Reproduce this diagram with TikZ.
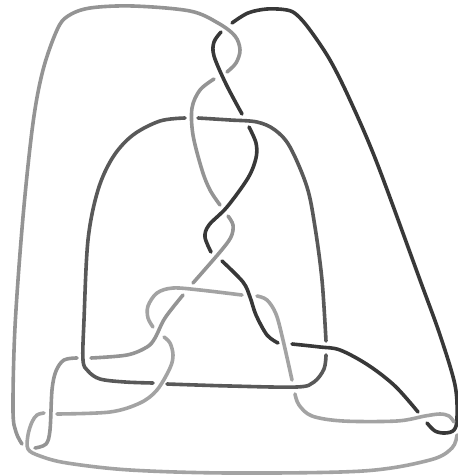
\documentclass[tikz,border=0pt]{standalone}
\begin{document}
\begin{tikzpicture}[x=1pt,y=-1pt,
  strand/.style={line width=3.6pt,line cap=round,line join=round,smooth,tension=0.55},
  dk/.style={strand,draw=black!78},
  md/.style={strand,draw=black!65},
  lg/.style={strand,draw=black!42},
  lh/.style={strand,draw=black!36}]
\useasboundingbox (0,0) rectangle (458,475);
% dark strand
\draw[dk] plot coordinates {(221,32) (214,42) (214,56) (226,84) (242,114)};
\draw[dk] plot coordinates {(249,127) (256,143) (256,158) (248,178) (227,207) (209,225) (205,237) (211,252)};
\draw[dk] plot coordinates {(222,261) (243,282) (250,297) (256,315) (267,335) (278,343)};
\draw[dk] plot coordinates {(292,344) (320,347) (340,350) (368,365) (395,386) (418,412)};
\draw[dk] plot coordinates {(427,423) (435,431) (445,433) (454,430) (457,418) (455,385) (440,335) (420,280) (377,163) (350,100) (330,60) (310,30) (297,15) (287,10) (267,9) (248,13) (232,23)};
% medium square strand
\draw[md] plot coordinates {(185,118) (160,121) (133,135) (113,157) (98,190) (88,240) (84,320) (83,360) (88,371) (100,379) (125,382) (153,383)};
\draw[md] plot coordinates {(167,384) (230,386) (297,387) (314,382) (324,369) (326,355)};
\draw[md] plot coordinates {(326,341) (322,280) (315,227) (307,187) (290,147) (275,130) (257,122) (230,120) (198,118)};
% light strands
\draw[lg] plot coordinates {(227,72) (236,63) (240,50) (235,36) (218,23) (190,11) (133,6) (90,8) (68,16) (57,30) (43,70) (33,123) (23,217) (15,327) (13,410) (16,432) (22,444)};
\draw[lg] plot coordinates {(214,79) (200,90) (192,108) (193,135) (202,170) (210,190) (220,205)};
\draw[lg] plot coordinates {(228,216) (233,225) (231,237) (220,252) (193,283)};
\draw[lg] plot coordinates {(183,295) (165,318) (155,338) (147,347) (127,355) (91,358)};
\draw[lh] plot coordinates {(153,327) (148,318) (148,306) (157,293) (173,288) (200,290) (242,295)};
\draw[lh] plot coordinates {(257,296) (267,300) (276,314) (283,340) (292,380)};
\draw[lh] plot coordinates {(295,394) (299,405) (312,416) (343,421) (397,421) (425,416) (440,414) (449,416) (454,422)};
\draw[lh] plot coordinates {(457,435) (452,448) (430,460) (363,471) (230,473) (130,470) (67,463) (40,456) (28,449) (28,435) (32,422) (37,415) (44,413)};
\draw[lh] plot coordinates {(57,414) (110,412) (140,403) (157,390) (170,368) (173,355) (170,343) (164,337)};
\draw[lg] plot coordinates {(77,358) (64,360) (56,371) (52,390) (50,430) (46,444) (35,448)};
\end{tikzpicture}
\end{document}
